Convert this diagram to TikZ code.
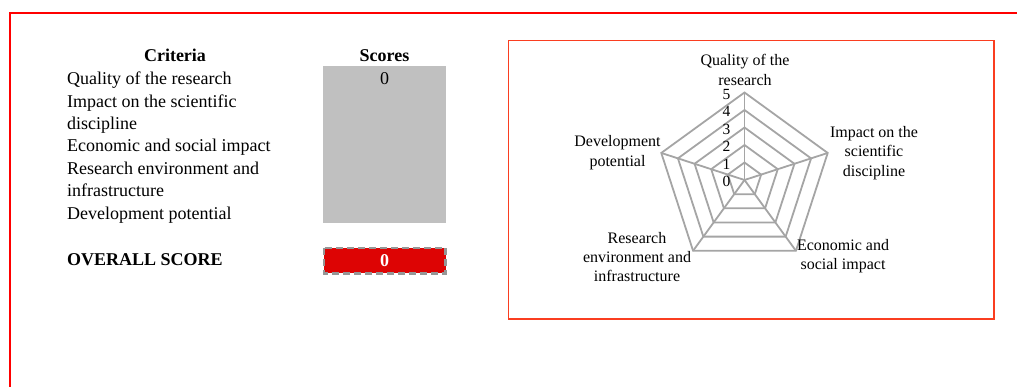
\documentclass[tikz,border=0pt]{standalone}
\usepackage{fontspec}
\setmainfont{Liberation Serif}
\usetikzlibrary{calc}
\definecolor{framered}{RGB}{255,0,0}
\definecolor{chartred}{RGB}{250,62,32}
\definecolor{boxgray}{RGB}{192,192,192}
\definecolor{scorered}{RGB}{221,4,4}
\definecolor{dashgray}{RGB}{150,150,150}
\definecolor{radargray}{RGB}{165,165,165}
\begin{document}
\begin{tikzpicture}[x=1pt,y=1pt,
  tabtext/.style={anchor=base west,inner sep=0pt,font=\fontsize{18}{22.4}\selectfont},
  tabhead/.style={anchor=base,inner sep=0pt,font=\fontsize{18}{22.4}\selectfont\bfseries},
  axlabel/.style={align=center,inner sep=0pt,font=\fontsize{16}{19.4}\selectfont},
  ticklabel/.style={anchor=base east,inner sep=0pt,font=\fontsize{15.5}{17}\selectfont},
  radar/.style={draw=radargray,line width=1.8pt,line join=miter}]
\useasboundingbox (0,0) rectangle (1017,-387);
% outer frame
\draw[framered,line width=2pt] (10,-387) -- (10,-12.7) -- (1017,-12.7);
% table
\node[tabhead] (crith) at (175,-61.7) {Criteria};
\node[tabhead] (scoreh) at (384.5,-61.7) {Scores};
\node[tabtext] (c1) at (67,-84.7) {Quality of the research};
\node[tabtext] (c2a) at (67,-107.1) {Impact on the scientific};
\node[tabtext] (c2b) at (67,-129.5) {discipline};
\node[tabtext] (c3) at (67,-151.9) {Economic and social impact};
\node[tabtext] (c4a) at (67,-174.3) {Research environment and};
\node[tabtext] (c4b) at (67,-196.7) {infrastructure};
\node[tabtext] (c5) at (67,-219.1) {Development potential};
\node[tabtext,font=\fontsize{18}{22.4}\selectfont\bfseries] (ovl) at (67,-266) {OVERALL SCORE};
\fill[boxgray] (323,-66) rectangle (446,-223);
\node[tabhead,font=\fontsize{18}{22.4}\selectfont] (s1) at (384.5,-84.5) {0};
\draw[fill=scorered,draw=dashgray,line width=2.6pt,dash pattern=on 7pt off 4pt] (324,-248) rectangle (445.5,-273.5);
\node[tabhead,text=white] (ovs) at (384.5,-266.5) {0};
% chart frame
\draw[chartred,line width=1.6pt] (508.5,-40.5) rectangle (994,-318.7);
% radar
\coordinate (ctr) at (744.5,-180);
\begin{scope}[shift={(ctr)}]
  \foreach \k in {1,...,5}{
    \draw[radar] (90:\k*17.5) -- (18:\k*17.5) -- (-54:\k*17.5) -- (-126:\k*17.5) -- (162:\k*17.5) -- cycle;
  }
  \foreach \a in {90,18,-54,-126,162}{
    \draw[radar] (0,0) -- (\a:87.5);
  }
  \foreach \k in {0,...,5}{
    \node[ticklabel] (t\k) at (-14,\k*17.5-7) {\k};
  }
\end{scope}
\node[axlabel] (lq) at (745,-70) {Quality of the\\research};
\node[axlabel] (li) at (874,-153) {Impact on the\\scientific\\discipline};
\node[axlabel] (le) at (843,-256) {Economic and\\social impact};
\node[axlabel] (lr) at (637,-257) {Research\\environment and\\infrastructure};
\node[axlabel] (ld) at (617.5,-152.5) {Development\\potential};
\end{tikzpicture}
\end{document}
